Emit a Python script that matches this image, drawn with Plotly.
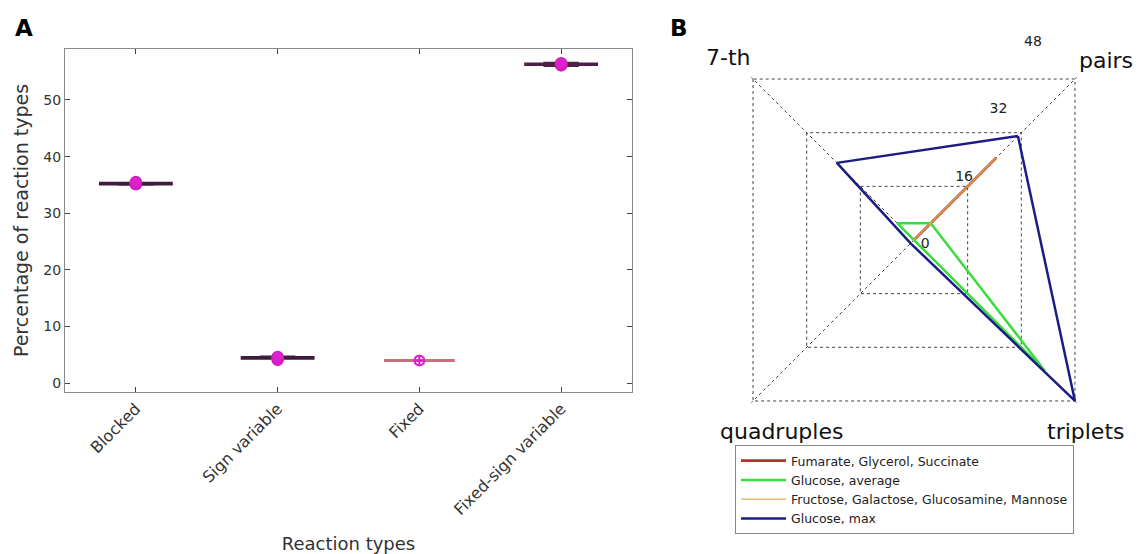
import plotly.graph_objects as go

# ---------------- Panel A data ----------------
reaction_types = ["Blocked", "Sign variable", "Fixed", "Fixed-sign variable"]
blocked_vals = [35.1, 35.2, 35.2, 35.2, 35.5]
sign_variable_vals = [4.1, 4.5, 4.5, 4.5, 4.6]
fixed_vals = [4.0, 4.0, 4.0]
fixed_sign_vals = [56.1, 56.3, 56.3, 56.3, 56.5]
panel_a_values = [blocked_vals, sign_variable_vals, fixed_vals, fixed_sign_vals]
box_line_colors = ["#3e1a3c", "#3e1a3c", "#c8707c", "#4e2046"]
point_symbols = ["circle", "circle", "circle-cross-open", "circle"]

# ---------------- Panel B data ----------------
coupling_types = ["pairs", "triplets", "quadruples", "7-th"]
series_names = [
    "Fumarate, Glycerol, Succinate",
    "Glucose, average",
    "Fructose, Galactose, Glucosamine, Mannose",
    "Glucose, max",
]
fumarate_r = [24.6, 0, 0, 0]
glucose_avg_r = [5, 39, 0, 5]
fructose_r = [24.6, 0, 0, 0]
glucose_max_r = [31, 48, 1, 23]
series_values = [fumarate_r, glucose_avg_r, fructose_r, glucose_max_r]
series_colors = ["#b5302a", "#3ddc3d", "#e0b050", "#1c1c86"]
series_widths = [2.6, 2.5, 1.3, 2.5]
radial_ticks = [0, 16, 32, 48]

FONT = "DejaVu Sans"
# the page body adds an 8px margin, so the figure is 8px smaller than the window
W, H = 1136, 546

fig = go.Figure()

for name, vals, lc, sym in zip(reaction_types, panel_a_values, box_line_colors, point_symbols):
    fig.add_trace(go.Box(
        x=[name] * len(vals), y=vals,
        boxpoints="all", jitter=0, pointpos=0,
        width=0.5, whiskerwidth=0.5,
        line=dict(color=lc, width=3),
        fillcolor=lc,
        marker=dict(color="#e020d0", size=11 if sym == "circle" else 10, symbol=sym,
                    line=dict(color="#d020c0", width=1.5)),
        showlegend=False, xaxis="x", yaxis="y",
    ))

for name, vals, col, lw in zip(series_names, series_values, series_colors, series_widths):
    fig.add_trace(go.Scatterpolar(
        r=vals + vals[:1], theta=coupling_types + coupling_types[:1],
        mode="lines", name=name,
        line=dict(color=col, width=lw),
        subplot="polar",
    ))

# overlay polar used only to carry the radial tick labels along a slanted line
fig.add_trace(go.Scatterpolar(r=[], theta=[], mode="lines", showlegend=False,
                              hoverinfo="skip", subplot="polar2"))

# polar geometry (figure pixels)
cx, cy, R = 906, 232, 230
polar_domain = dict(x=[(cx - R) / W, 1.0], y=[1 - (cy + R) / H, 1 - (cy - R) / H])
label_dy = 2
label_domain = dict(x=[(cx - R) / W, 1.0],
                    y=[max(0.0, 1 - (cy - label_dy + R) / H), min(1.0, 1 - (cy - label_dy - R) / H)])
LABEL_ANGLE = 63

label_pos = {
    "7-th": (753 - 8, 57 - 8, "right"),
    "pairs": (1077 - 8, 60 - 8, "left"),
    "quadruples": (781 - 8, 431 - 8, "center"),
    "triplets": (1085 - 8, 431 - 8, "center"),
}
annotations = [
    dict(text="<b>A</b>", x=5 / W, y=1 - 5 / H, xref="paper", yref="paper",
         xanchor="left", yanchor="top", showarrow=False, font=dict(size=23, color="#000")),
    dict(text="<b>B</b>", x=660 / W, y=1 - 5 / H, xref="paper", yref="paper",
         xanchor="left", yanchor="top", showarrow=False, font=dict(size=23, color="#000")),
]
for cat in coupling_types:
    px, py, anchor = label_pos[cat]
    annotations.append(dict(
        text=cat, x=px / W, y=1 - py / H, xref="paper", yref="paper",
        xanchor=anchor, yanchor="middle", showarrow=False,
        font=dict(size=22, color="#111"),
    ))

fig.update_layout(
    width=W, height=H,
    margin=dict(l=0, r=0, t=0, b=0),
    paper_bgcolor="white", plot_bgcolor="white",
    font=dict(family=FONT, color="#333333"),
    xaxis=dict(
        domain=[57 / W, 624 / W], range=[-0.5, 3.5], type="category",
        categoryorder="array", categoryarray=reaction_types,
        showline=True, linecolor="#8a8a8a", linewidth=1.2, mirror="ticks",
        ticks="inside", ticklen=5, tickcolor="#444", tickangle=-45,
        tickfont=dict(size=16, color="#333"),
        title=dict(text="Reaction types", font=dict(size=18, color="#333"), standoff=20),
        showgrid=False, zeroline=False, automargin=False,
    ),
    yaxis=dict(
        domain=[1 - 384 / H, 1 - 41 / H], range=[-1.56, 59.0],
        tickvals=[0, 10, 20, 30, 40, 50],
        showline=True, linecolor="#8a8a8a", linewidth=1.2, mirror="ticks",
        ticks="inside", ticklen=5, tickcolor="#444",
        tickfont=dict(size=14, color="#333"),
        title=dict(text="Percentage of reaction types", font=dict(size=19, color="#333"), standoff=9),
        showgrid=False, zeroline=False, automargin=False,
    ),
    polar=dict(
        domain=polar_domain,
        gridshape="linear", bgcolor="white",
        radialaxis=dict(
            range=[0, 48.5], tickvals=radial_ticks, showline=False,
            ticks="", showticklabels=False,
            gridcolor="#444", griddash="dot", gridwidth=1,
        ),
        angularaxis=dict(
            categoryorder="array", categoryarray=coupling_types,
            rotation=45, direction="clockwise", showline=False,
            ticks="", showticklabels=False,
            gridcolor="#444", griddash="dot", gridwidth=1,
        ),
    ),
    polar2=dict(
        domain=label_domain, bgcolor="rgba(0,0,0,0)",
        radialaxis=dict(
            range=[0, 48.5], tickvals=radial_ticks, angle=LABEL_ANGLE, tickangle=LABEL_ANGLE,
            showline=False, showgrid=False, ticks="",
            tickfont=dict(size=14, color="#222"),
        ),
        angularaxis=dict(visible=False, showgrid=False, showline=False),
    ),
    legend=dict(
        x=727 / W, y=1 - 437 / H, xanchor="left", yanchor="top",
        bordercolor="#888", borderwidth=1, bgcolor="white",
        font=dict(size=12.5, color="#222"), tracegroupgap=0, itemwidth=45,
    ),
    annotations=annotations,
)

fig.write_html("out.html")
